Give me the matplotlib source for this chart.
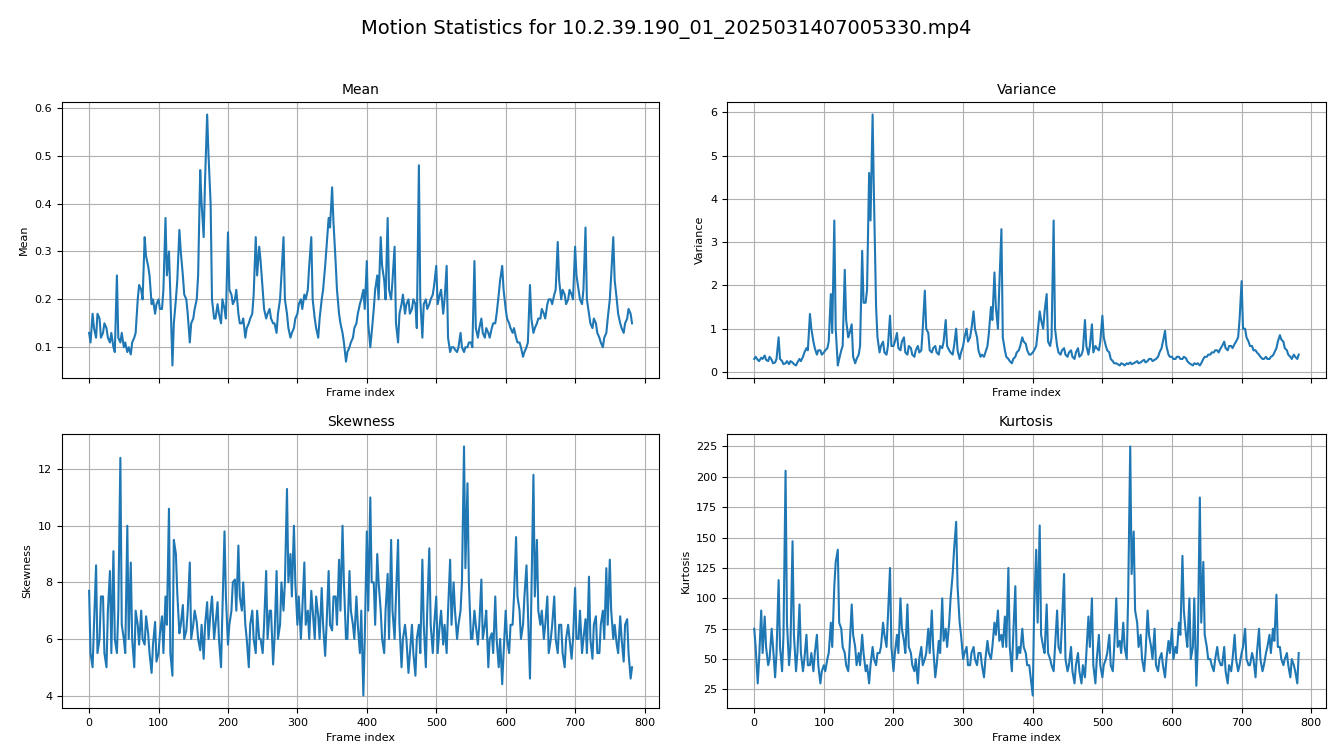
import numpy as np
import matplotlib
matplotlib.use("Agg")
import matplotlib.pyplot as plt
from matplotlib.ticker import MultipleLocator

# Frames read on two interleaved grids: main track and opposite band edge
frames_a = np.arange(0, 785, 5)
frames_b = np.arange(2, 785, 5)

mean_a = [
    0.13, 0.17, 0.12, 0.16, 0.13, 0.14, 0.11, 0.10, 0.25, 0.11,
    0.10, 0.09, 0.085, 0.12, 0.20, 0.22, 0.33, 0.27, 0.19, 0.17,
    0.20, 0.18, 0.37, 0.30, 0.062, 0.20, 0.345, 0.25, 0.20, 0.11,
    0.16, 0.20, 0.47, 0.33, 0.586, 0.40, 0.16, 0.19, 0.15, 0.18,
    0.34, 0.21, 0.20, 0.17, 0.15, 0.12, 0.15, 0.17, 0.33, 0.31,
    0.22, 0.16, 0.18, 0.15, 0.13, 0.20, 0.33, 0.17, 0.12, 0.14,
    0.17, 0.20, 0.21, 0.22, 0.33, 0.16, 0.12, 0.20, 0.27, 0.37,
    0.434, 0.28, 0.17, 0.13, 0.07, 0.10, 0.12, 0.15, 0.19, 0.22,
    0.28, 0.10, 0.18, 0.25, 0.33, 0.24, 0.37, 0.20, 0.31, 0.11,
    0.19, 0.17, 0.20, 0.18, 0.19, 0.48, 0.12, 0.20, 0.19, 0.21,
    0.27, 0.21, 0.17, 0.27, 0.09, 0.10, 0.09, 0.13, 0.09, 0.10,
    0.11, 0.28, 0.12, 0.16, 0.12, 0.13, 0.14, 0.15, 0.21, 0.27,
    0.18, 0.15, 0.13, 0.12, 0.11, 0.08, 0.10, 0.23, 0.13, 0.15,
    0.16, 0.17, 0.19, 0.20, 0.21, 0.32, 0.20, 0.21, 0.20, 0.21,
    0.31, 0.22, 0.19, 0.35, 0.17, 0.14, 0.15, 0.12, 0.10, 0.13,
    0.20, 0.33, 0.20, 0.15, 0.13, 0.16, 0.17,
]
mean_b = [
    0.11, 0.14, 0.17, 0.12, 0.15, 0.12, 0.13, 0.09, 0.12, 0.13,
    0.11, 0.10, 0.11, 0.13, 0.23, 0.20, 0.29, 0.25, 0.20, 0.19,
    0.18, 0.22, 0.25, 0.21, 0.15, 0.24, 0.30, 0.21, 0.17, 0.15,
    0.18, 0.25, 0.40, 0.45, 0.50, 0.20, 0.16, 0.17, 0.20, 0.16,
    0.22, 0.19, 0.22, 0.15, 0.16, 0.14, 0.16, 0.21, 0.25, 0.28,
    0.18, 0.17, 0.16, 0.15, 0.17, 0.25, 0.20, 0.14, 0.13, 0.16,
    0.19, 0.18, 0.20, 0.27, 0.20, 0.14, 0.16, 0.22, 0.31, 0.35,
    0.36, 0.22, 0.15, 0.11, 0.09, 0.11, 0.14, 0.17, 0.20, 0.18,
    0.15, 0.13, 0.22, 0.20, 0.27, 0.20, 0.22, 0.24, 0.15, 0.17,
    0.21, 0.19, 0.17, 0.20, 0.14, 0.20, 0.19, 0.18, 0.20, 0.23,
    0.19, 0.22, 0.20, 0.12, 0.10, 0.095, 0.10, 0.10, 0.10, 0.11,
    0.10, 0.14, 0.14, 0.13, 0.14, 0.12, 0.15, 0.17, 0.24, 0.22,
    0.16, 0.14, 0.14, 0.11, 0.10, 0.09, 0.11, 0.16, 0.14, 0.16,
    0.18, 0.16, 0.20, 0.19, 0.22, 0.24, 0.22, 0.19, 0.22, 0.20,
    0.25, 0.20, 0.22, 0.20, 0.15, 0.16, 0.13, 0.11, 0.12, 0.16,
    0.25, 0.24, 0.17, 0.14, 0.15, 0.18, 0.15,
]

variance_a = [
    0.30, 0.28, 0.33, 0.38, 0.25, 0.28, 0.22, 0.80, 0.25, 0.20,
    0.18, 0.22, 0.15, 0.30, 0.35, 0.55, 1.34, 0.70, 0.40, 0.50,
    0.45, 0.55, 1.80, 3.50, 0.15, 0.50, 2.36, 0.80, 1.10, 0.20,
    0.40, 2.80, 1.60, 4.60, 5.95, 1.50, 0.45, 0.70, 0.40, 1.30,
    0.60, 0.90, 0.50, 0.80, 0.40, 0.55, 0.35, 0.60, 0.50, 1.88,
    0.90, 0.45, 0.60, 0.40, 0.55, 1.20, 0.50, 0.40, 1.00, 0.30,
    0.60, 1.00, 0.80, 1.40, 0.80, 0.35, 0.35, 0.60, 1.50, 2.30,
    1.00, 3.30, 0.50, 0.30, 0.20, 0.35, 0.50, 0.80, 0.65, 0.40,
    0.45, 0.60, 1.40, 1.00, 1.80, 0.60, 3.50, 0.60, 0.40, 0.55,
    0.35, 0.50, 0.30, 0.55, 0.40, 1.20, 0.40, 1.10, 0.60, 0.50,
    1.30, 0.60, 0.45, 0.25, 0.20, 0.15, 0.18, 0.20, 0.22, 0.20,
    0.25, 0.22, 0.28, 0.25, 0.30, 0.28, 0.35, 0.55, 0.95, 0.40,
    0.35, 0.30, 0.35, 0.30, 0.32, 0.20, 0.15, 0.18, 0.15, 0.30,
    0.35, 0.40, 0.45, 0.50, 0.55, 0.70, 0.50, 0.60, 0.65, 0.80,
    2.10, 1.00, 0.70, 0.60, 0.50, 0.40, 0.30, 0.35, 0.30, 0.38,
    0.55, 0.85, 0.70, 0.50, 0.35, 0.40, 0.30,
]
variance_b = [
    0.35, 0.25, 0.30, 0.28, 0.35, 0.20, 0.30, 0.30, 0.18, 0.25,
    0.25, 0.18, 0.22, 0.25, 0.45, 0.50, 1.00, 0.55, 0.50, 0.40,
    0.50, 0.70, 0.90, 1.00, 0.30, 0.60, 1.20, 0.90, 0.35, 0.30,
    0.60, 1.60, 1.90, 3.50, 4.00, 0.80, 0.60, 0.45, 0.60, 0.60,
    0.70, 0.55, 0.70, 0.45, 0.60, 0.40, 0.50, 0.45, 1.00, 1.00,
    0.50, 0.55, 0.45, 0.60, 0.70, 0.60, 0.45, 0.60, 0.50, 0.45,
    0.80, 0.70, 1.00, 1.00, 0.50, 0.40, 0.45, 0.90, 1.20, 1.50,
    2.00, 0.80, 0.35, 0.25, 0.30, 0.45, 0.60, 0.70, 0.50, 0.40,
    0.50, 0.90, 1.20, 1.40, 0.70, 0.80, 1.00, 0.45, 0.50, 0.40,
    0.45, 0.35, 0.45, 0.35, 0.50, 0.60, 0.60, 0.45, 0.55, 0.70,
    0.80, 0.50, 0.30, 0.20, 0.18, 0.20, 0.15, 0.18, 0.18, 0.22,
    0.20, 0.25, 0.22, 0.30, 0.25, 0.30, 0.45, 0.70, 0.60, 0.35,
    0.30, 0.35, 0.30, 0.35, 0.25, 0.18, 0.20, 0.20, 0.20, 0.35,
    0.40, 0.45, 0.50, 0.45, 0.60, 0.55, 0.60, 0.55, 0.70, 1.20,
    1.00, 0.80, 0.60, 0.50, 0.45, 0.35, 0.30, 0.30, 0.35, 0.45,
    0.70, 0.75, 0.55, 0.40, 0.30, 0.35, 0.40,
]

skewness_a = [
    7.7, 5.0, 8.6, 6.0, 7.5, 5.0, 8.4, 9.1, 5.5, 12.4,
    6.0, 10.0, 8.7, 5.0, 6.5, 7.0, 5.8, 6.2, 4.8, 6.6,
    5.5, 6.8, 7.5, 10.6, 4.7, 9.0, 6.2, 7.2, 6.3, 8.7,
    6.5, 6.6, 5.6, 5.3, 7.3, 7.0, 6.0, 7.3, 5.0, 9.8,
    5.8, 7.0, 8.1, 9.3, 7.0, 6.5, 5.0, 7.0, 5.5, 6.0,
    5.5, 8.4, 7.0, 5.1, 8.4, 6.5, 7.0, 11.3, 9.0, 10.0,
    6.5, 6.0, 8.7, 7.0, 7.7, 6.0, 6.8, 7.8, 5.4, 8.4,
    6.3, 7.5, 8.8, 10.0, 6.0, 8.4, 6.5, 7.5, 5.5, 4.0,
    9.8, 11.0, 8.0, 9.0, 7.0, 5.5, 8.3, 9.5, 6.0, 9.5,
    5.0, 6.5, 4.8, 6.5, 4.7, 6.5, 8.8, 5.0, 9.2, 5.5,
    7.5, 6.5, 5.8, 5.5, 8.8, 8.0, 6.0, 7.0, 12.8, 11.5,
    6.0, 7.0, 5.8, 8.1, 6.5, 5.0, 6.2, 7.5, 5.0, 4.4,
    7.0, 5.5, 6.5, 9.6, 7.0, 6.5, 8.6, 4.6, 11.8, 9.5,
    6.5, 6.0, 7.5, 6.0, 7.5, 5.5, 6.5, 5.0, 6.5, 5.3,
    7.8, 6.0, 5.5, 6.7, 8.2, 5.3, 6.8, 5.5, 7.0, 8.5,
    8.8, 6.0, 5.8, 6.8, 5.2, 6.7, 4.6,
]
skewness_b = [
    5.5, 6.5, 5.5, 7.5, 5.5, 7.0, 5.5, 6.0, 7.0, 6.5,
    5.5, 6.0, 6.0, 7.0, 5.8, 6.0, 6.8, 5.5, 5.8, 5.2,
    6.2, 5.5, 6.5, 5.5, 9.5, 7.6, 6.5, 6.0, 7.0, 6.0,
    7.0, 6.0, 6.5, 6.5, 6.0, 7.5, 6.5, 6.0, 7.0, 7.5,
    6.5, 8.0, 7.0, 7.5, 8.0, 6.0, 6.5, 6.0, 7.0, 6.0,
    6.5, 6.0, 7.0, 6.0, 6.0, 8.0, 8.0, 8.0, 7.5, 8.0,
    7.5, 7.0, 6.5, 6.0, 7.0, 7.5, 6.0, 6.5, 6.5, 6.5,
    7.5, 6.5, 7.0, 8.0, 6.0, 7.0, 6.0, 6.5, 7.0, 6.0,
    7.0, 8.0, 6.5, 8.0, 6.0, 7.0, 6.0, 7.0, 7.5, 6.5,
    6.0, 6.0, 5.5, 5.5, 6.0, 5.5, 6.5, 7.0, 6.5, 6.5,
    5.5, 7.0, 6.5, 7.0, 6.5, 7.0, 6.5, 8.0, 8.5, 8.0,
    6.0, 6.5, 6.5, 6.0, 7.0, 6.0, 5.5, 6.0, 6.0, 5.5,
    6.0, 6.5, 7.5, 7.5, 6.0, 7.5, 7.0, 7.5, 7.5, 7.0,
    7.0, 6.5, 5.5, 6.5, 6.0, 6.5, 5.5, 6.0, 6.0, 6.0,
    6.0, 7.0, 6.0, 5.5, 6.0, 6.5, 5.5, 6.5, 6.0, 6.5,
    7.0, 6.5, 5.5, 6.0, 6.5, 5.5, 5.0,
]

kurtosis_a = [
    75, 30, 90, 85, 45, 75, 35, 115, 40, 205,
    45, 147, 40, 95, 40, 70, 45, 40, 70, 30,
    45, 50, 80, 110, 140, 75, 55, 40, 95, 60,
    55, 70, 40, 30, 60, 45, 55, 80, 60, 125,
    40, 70, 100, 65, 95, 55, 40, 30, 60, 50,
    75, 90, 35, 65, 100, 75, 80, 120, 163, 80,
    50, 60, 45, 60, 45, 55, 35, 65, 50, 80,
    90, 70, 85, 125, 40, 110, 60, 75, 55, 45,
    20, 140, 160, 60, 95, 50, 40, 90, 55, 120,
    40, 60, 30, 55, 30, 35, 85, 100, 30, 70,
    35, 50, 70, 40, 100, 65, 80, 50, 225, 155,
    80, 70, 40, 90, 60, 75, 40, 55, 35, 65,
    75, 60, 80, 135, 70, 100, 60, 28, 183, 130,
    60, 50, 40, 60, 45, 60, 30, 40, 70, 40,
    55, 75, 45, 55, 35, 75, 40, 55, 70, 75,
    103, 60, 45, 55, 35, 45, 30,
]
kurtosis_b = [
    60, 50, 55, 60, 50, 60, 55, 60, 70, 80,
    60, 70, 55, 55, 50, 45, 55, 55, 45, 40,
    40, 55, 60, 130, 80, 60, 45, 60, 70, 45,
    45, 55, 45, 45, 50, 55, 60, 70, 85, 60,
    55, 55, 75, 55, 60, 45, 50, 50, 45, 55,
    55, 60, 45, 55, 65, 60, 100, 140, 110, 70,
    55, 45, 55, 50, 55, 45, 50, 55, 60, 70,
    65, 60, 60, 60, 70, 50, 55, 60, 45, 35,
    90, 80, 70, 55, 55, 45, 60, 60, 80, 50,
    45, 40, 45, 40, 45, 55, 60, 45, 50, 45,
    45, 55, 45, 60, 60, 55, 60, 100, 120, 90,
    60, 50, 55, 70, 50, 45, 50, 45, 50, 55,
    50, 55, 70, 90, 60, 50, 100, 60, 80, 70,
    50, 45, 50, 50, 45, 40, 45, 50, 50, 45,
    60, 50, 45, 50, 55, 50, 45, 60, 55, 65,
    60, 50, 50, 45, 50, 40, 55,
]

panels = [
    ("Mean", mean_a, mean_b),
    ("Variance", variance_a, variance_b),
    ("Skewness", skewness_a, skewness_b),
    ("Kurtosis", kurtosis_a, kurtosis_b),
]


def interleave(a, b):
    out = np.empty(len(a) + len(b))
    out[0::2] = a
    out[1::2] = b
    return out


x_all = interleave(frames_a, frames_b)

fig, axes = plt.subplots(2, 2, figsize=(13.33, 7.5), dpi=100, sharex=True)
positions = [
    [0.0465, 0.496, 0.448, 0.368],
    [0.5454, 0.496, 0.4493, 0.368],
    [0.0465, 0.056, 0.448, 0.3653],
    [0.5454, 0.056, 0.4493, 0.3653],
]
for ax, (name, va, vb), pos in zip(axes.flat, panels, positions):
    ax.set_position(pos)
    ax.plot(x_all, interleave(va, vb), color="#1f77b4", linewidth=1.5)
    ax.set_title(name, fontsize=10)
    ax.set_xlabel("Frame index", fontsize=8)
    ax.set_ylabel(name, fontsize=8)
    ax.tick_params(labelsize=8)
    ax.grid(True)

axes[1, 1].yaxis.set_major_locator(MultipleLocator(25))

fig.suptitle("Motion Statistics for 10.2.39.190_01_2025031407005330.mp4",
             fontsize=14, y=0.975)
fig.savefig("out.png", dpi=100)
